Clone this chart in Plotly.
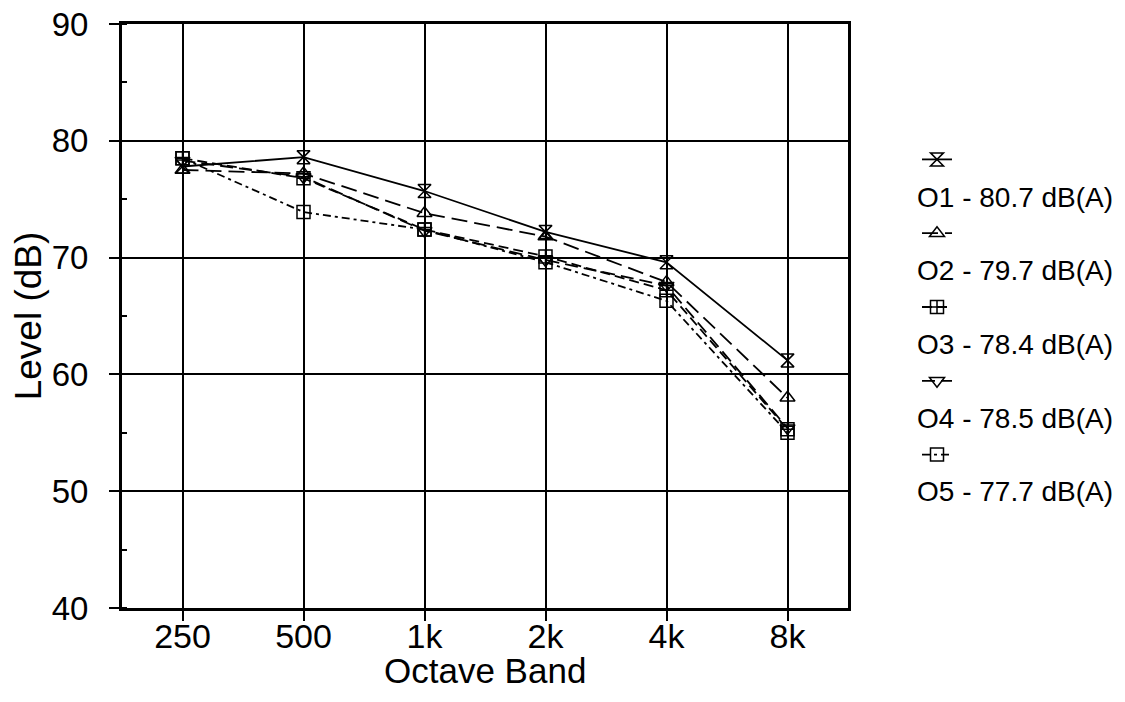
import plotly.graph_objects as go

bands = ["250", "500", "1k", "2k", "4k", "8k"]
o1 = [77.8, 78.6, 75.7, 72.2, 69.6, 61.2]
o2 = [77.5, 77.2, 73.8, 71.8, 67.9, 58.0]
o3 = [78.5, 76.8, 72.4, 70.1, 67.2, 55.3]
o4 = [78.3, 76.9, 72.3, 69.8, 67.6, 55.4]
o5 = [78.5, 73.9, 72.4, 69.6, 66.3, 55.0]
labels = ["O1 - 80.7 dB(A)", "O2 - 79.7 dB(A)", "O3 - 78.4 dB(A)",
          "O4 - 78.5 dB(A)", "O5 - 77.7 dB(A)"]
x_title = "Octave Band"
y_title = "Level (dB)"

series = [o1, o2, o3, o4, o5]
symbols = ["hourglass-open", "triangle-up-open", "square-cross-open",
           "triangle-down-open", "square-open"]
dashes = ["solid", "16px,7px", "10px,5px", "13px,6px", "8px,4px,3px,4px"]

FONT = "Arial, Liberation Sans, sans-serif"
fig = go.Figure()
for i, (vals, sym, dash, lab) in enumerate(zip(series, symbols, dashes, labels)):
    fig.add_trace(go.Scatter(
        x=bands, y=vals, mode="lines+markers",
        name=" ", legendgroup=f"g{i}",
        hovertemplate=lab + "<br>%{x}: %{y} dB<extra></extra>",
        line=dict(color="black", width=1.8, dash=dash),
        marker=dict(symbol=sym, size=13, color="black",
                    line=dict(color="black", width=1.5)),
    ))

# target plot area in window pixels; page body adds an 8px offset
OFF = 8
W, H = 1125, 702
PL, PR, PT, PB = 122, 848, 24, 608
L, T = PL - OFF, PT - OFF
R, B = W - (PR - OFF), H - (PB - OFF)
pw, ph = PR - PL, PB - PT

def px_x(x):
    return (x - PL) / pw

def px_y(y):
    return (PB - y) / ph

y0, step = 197, 73.7
for i, lab in enumerate(labels):
    fig.add_annotation(
        text=lab, xref="paper", yref="paper",
        x=px_x(915), y=px_y(y0 + i * step),
        xanchor="left", yanchor="middle", showarrow=False,
        font=dict(family=FONT, size=28, color="black"),
    )

# x-axis title placed just under the tick labels
fig.add_annotation(
    text=x_title, xref="paper", yref="paper",
    x=0.5, y=px_y(670), xanchor="center", yanchor="middle",
    showarrow=False, font=dict(family=FONT, size=35, color="black"),
)

fig.update_layout(
    width=W, height=H,
    margin=dict(l=L, r=R, t=T, b=B),
    paper_bgcolor="white", plot_bgcolor="white",
    font=dict(family=FONT, color="black"),
    showlegend=True,
    legend=dict(x=px_x(917), y=px_y(136),
                xanchor="left", yanchor="top",
                font=dict(size=26), tracegroupgap=37,
                itemwidth=30, bgcolor="rgba(0,0,0,0)"),
)
fig.update_xaxes(
    tickfont=dict(size=34), automargin=False, ticklabelstandoff=-14,
    ticklabeloverflow="allow",
    ticks="outside", ticklen=10, tickwidth=1.5, tickcolor="black",
    showgrid=True, gridcolor="black", gridwidth=1.5,
    showline=True, linecolor="black", linewidth=3, mirror=True,
    range=[-0.5, 5.5],
)
fig.update_yaxes(
    title=dict(text=y_title, font=dict(size=37), standoff=14),
    tickfont=dict(size=33), automargin=False, ticklabelstandoff=14,
    ticklabeloverflow="allow",
    range=[40, 90], dtick=10, tick0=40,
    ticks="outside", ticklen=10, tickwidth=1.5, tickcolor="black",
    minor=dict(dtick=5, ticks="inside", ticklen=5, tickcolor="black", showgrid=False),
    showgrid=True, gridcolor="black", gridwidth=1.5, zeroline=False,
    showline=True, linecolor="black", linewidth=3, mirror=True,
)
fig.write_html("out.html")
